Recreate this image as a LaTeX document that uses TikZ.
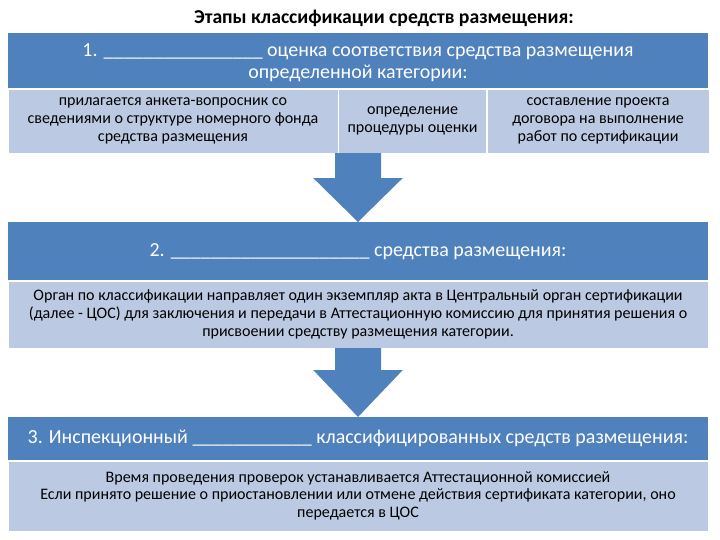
\documentclass[tikz,border=0pt]{standalone}
\usepackage{fontspec}
\setmainfont{Carlito}
\usetikzlibrary{positioning,calc}
\definecolor{headblue}{RGB}{79,129,189}
\definecolor{paleblue}{RGB}{187,202,226}
% block arrow: top point, tip, head length
\newcommand\blockarrow[3]{%
  \fill[flow] ($(#1)+(-0.575,0)$) -- ($(#1)+(0.575,0)$) -- ($(#2)+(0.575,#3)$)
    -- ($(#2)+(1.12,#3)$) -- (#2) -- ($(#2)+(-1.12,#3)$) -- ($(#2)+(-0.575,#3)$) -- cycle;}
\begin{document}
\begin{tikzpicture}[
    headbox/.style={fill=headblue, text=white, minimum width=17.5cm, align=center,
      inner sep=0pt, font=\fontsize{14.2}{15.5}\selectfont},
    subbox/.style={fill=paleblue, draw=white, align=center, inner sep=0pt,
      font=\fontsize{11.4}{12.6}\selectfont},
    flow/.style={fill=headblue}]
  \useasboundingbox (0,0) rectangle (18,-13.5);
  \node[font=\bfseries\fontsize{14}{16}\selectfont] (title) at (9.6,-0.45) {Этапы классификации средств размещения:};

  \node[headbox, minimum height=1.375cm, anchor=north, text depth=-0.1cm] (h1) at (8.95,-0.825)
    {1. \_\_\_\_\_\_\_\_\_\_\_\_\_\_\_\_ оценка соответствия средства размещения\\ определенной категории:};
  \node[subbox, minimum width=8.25cm, minimum height=1.6cm, anchor=north west] (s1a) at (h1.south west)
    {прилагается анкета-вопросник со\\ сведениями о структуре номерного фонда\\ средства размещения};
  \node[subbox, minimum width=3.7cm, minimum height=1.6cm, anchor=north west] (s1b) at (s1a.north east)
    {определение\\ процедуры оценки};
  \node[subbox, minimum width=5.55cm, minimum height=1.6cm, anchor=north west] (s1c) at (s1b.north east)
    {составление проекта\\ договора на выполнение\\ работ по сертификации};

  \node[headbox, minimum height=1.45cm, anchor=north] (h2) at (8.95,-5.55)
    {2. \_\_\_\_\_\_\_\_\_\_\_\_\_\_\_\_\_\_\_\_ средства размещения:};
  \node[subbox, minimum width=17.5cm, minimum height=1.675cm, anchor=north] (s2) at (h2.south)
    {Орган по классификации направляет один экземпляр акта в Центральный орган сертификации\\
     (далее - ЦОС) для заключения и передачи в Аттестационную комиссию для принятия решения о\\
     присвоении средству размещения категории.};

  \node[headbox, minimum height=1.075cm, anchor=north] (h3) at (8.95,-10.425)
    {3. Инспекционный \_\_\_\_\_\_\_\_\_\_\_\_ классифицированных средств размещения:};
  \node[subbox, minimum width=17.5cm, minimum height=1.75cm, anchor=north] (s3) at (h3.south)
    {Время проведения проверок устанавливается Аттестационной комиссией\\
     Если принято решение о приостановлении или отмене действия сертификата категории, оно\\
     передается в ЦОС};

  \coordinate (a1) at (h1.center |- s1a.south);
  \coordinate (a2) at (h2.center |- s2.south);
  \blockarrow{a1}{h2.north}{1.1}
  \blockarrow{a2}{h3.north}{1.175}
\end{tikzpicture}
\end{document}
